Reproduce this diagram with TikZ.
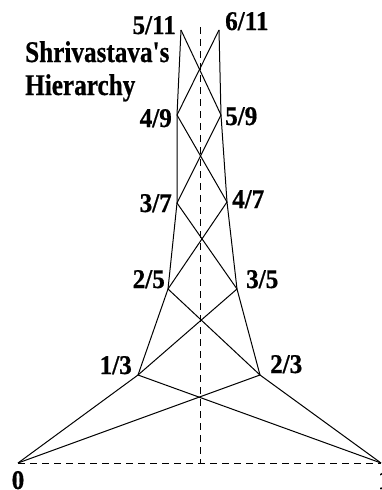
\documentclass[tikz,border=0pt]{standalone}
\usepackage{fontspec}
\setmainfont{Liberation Serif}
\newfontfamily\titlefont[FakeStretch=0.84,FakeBold=0.6]{Liberation Serif}
\newfontfamily\labfont[FakeStretch=0.93,FakeBold=0.6]{Liberation Serif}
\begin{document}
\begin{tikzpicture}[x=1pt,y=-1pt,
  edge/.style={black,line width=1pt},
  axis/.style={black,line width=1pt,dash pattern=on 7pt off 5pt},
  lab/.style={inner sep=0pt,font=\labfont\fontsize{27}{27}\selectfont\bfseries},
  ttl/.style={inner sep=0pt,font=\titlefont\fontsize{30}{30}\selectfont\bfseries}]
\useasboundingbox (0,0) rectangle (382,490);
% vertices
\coordinate (z) at (18,463);
\coordinate (o) at (381,463);
\coordinate (a13) at (138,375);
\coordinate (a23) at (260,375);
\coordinate (a25) at (168,289);
\coordinate (a35) at (237,289);
\coordinate (a37) at (177,203);
\coordinate (a47) at (227,202);
\coordinate (a49) at (177,115);
\coordinate (a59) at (221,115);
\coordinate (a511) at (181,30);
\coordinate (a611) at (219,30);
\coordinate (vt) at (200,27);
\coordinate (vb) at (200,463);
% dashed axes
\draw[axis] (z) -- (o);
\draw[axis] (vt) -- (vb);
% sides
\draw[edge] (z) -- (a13) -- (a25) -- (a37) -- (a49) -- (a511);
\draw[edge] (o) -- (a23) -- (a35) -- (a47) -- (a59) -- (a611);
% crossings
\draw[edge] (z) -- (a23);
\draw[edge] (o) -- (a13);
\draw[edge] (a13) -- (a35);
\draw[edge] (a23) -- (a25);
\draw[edge] (a25) -- (a47);
\draw[edge] (a35) -- (a37);
\draw[edge] (a37) -- (a59);
\draw[edge] (a47) -- (a49);
\draw[edge] (a49) -- (a611);
\draw[edge] (a59) -- (a511);
% labels
\node[lab,anchor=base east] (l511) at (176,34) {5/11};
\node[lab,anchor=base west] (l611) at (225,30) {6/11};
\node[lab,anchor=base east] (l49) at (172,127) {4/9};
\node[lab,anchor=base west] (l59) at (225,125) {5/9};
\node[lab,anchor=base east] (l37) at (172,212) {3/7};
\node[lab,anchor=base west] (l47) at (232,208) {4/7};
\node[lab,anchor=base east] (l25) at (165,288) {2/5};
\node[lab,anchor=base west] (l35) at (246,288) {3/5};
\node[lab,anchor=base east] (l13) at (132,374) {1/3};
\node[lab,anchor=base west] (l23) at (270,373) {2/3};
\node[lab,anchor=base] (l0) at (18,489) {0};
\node[lab,anchor=base west] (l1) at (378,489) {1};
% title
\node[ttl,anchor=base west] (t1) at (25,62) {Shrivastava's};
\node[ttl,anchor=base west] (t2) at (25,95) {Hierarchy};
\end{tikzpicture}
\end{document}
